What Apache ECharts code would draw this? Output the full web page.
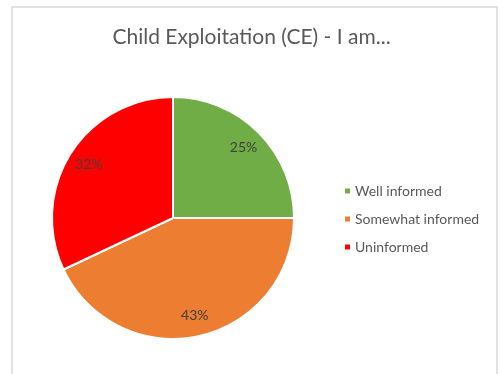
<!DOCTYPE html>
<html>
<head>
<meta charset="utf-8">
<script src="https://cdn.jsdelivr.net/npm/echarts@6/dist/echarts.min.js"></script>
<style>
  html, body { margin: 0; padding: 0; background: #fff; }
  #chart { width: 503px; height: 374px; }
</style>
</head>
<body>
<div id="chart"></div>
<script>
// Survey answers: how well informed respondents feel about child exploitation
const categories = ['Well informed', 'Somewhat informed', 'Uninformed'];
const shares = [25, 43, 32];
const sliceColors = ['#70AD47', '#ED7D31', '#FF0000'];
const titleText = 'Child Exploitation (CE) - I am...';

const FONT = 'Lato, "Open Sans", sans-serif';
const center = [173, 218];
const R = 121;

const pieData = categories.map((name, i) => ({
  name,
  value: shares[i],
  itemStyle: { color: sliceColors[i] }
}));

const chart = echarts.init(document.getElementById('chart'), null, { renderer: 'canvas' });
chart.setOption({
  animation: false,
  backgroundColor: '#fff',
  title: {
    text: titleText,
    left: 'center',
    top: 22,
    textStyle: { fontFamily: FONT, fontSize: 21, fontWeight: 'normal', color: '#595959' }
  },
  legend: {
    orient: 'vertical',
    left: 338,
    top: 178,
    itemWidth: 7,
    itemHeight: 7,
    itemGap: 12,
    icon: 'rect',
    textStyle: { fontFamily: FONT, fontSize: 14, lineHeight: 16, color: '#595959', padding: [0, 0, 0, -1] },
    data: categories
  },
  graphic: [{
    type: 'rect',
    shape: { x: 12, y: 7, width: 485, height: 400 },
    style: { fill: 'none', stroke: '#d9d9d9', lineWidth: 1.5 },
    silent: true
  }],
  series: [{
    type: 'pie',
    center,
    radius: R,
    startAngle: 90,
    clockwise: true,
    label: { show: false },
    labelLine: { show: false },
    itemStyle: { borderColor: '#fff', borderWidth: 2 },
    emphasis: { disabled: true },
    data: pieData
  }, {
    // Transparent ring used only to place the percentage labels
    type: 'pie',
    center,
    radius: [R * 0.6, R],
    startAngle: 90,
    clockwise: true,
    silent: true,
    legendHoverLink: false,
    itemStyle: { color: 'rgba(0,0,0,0)', borderWidth: 0 },
    label: {
      show: true,
      position: 'inside',
      formatter: p => p.value + '%',
      fontFamily: FONT,
      fontSize: 14,
      color: '#404040'
    },
    labelLine: { show: false },
    emphasis: { disabled: true },
    data: categories.map((name, i) => ({ name: name + ' ', value: shares[i] }))
  }]
});
</script>
</body>
</html>
